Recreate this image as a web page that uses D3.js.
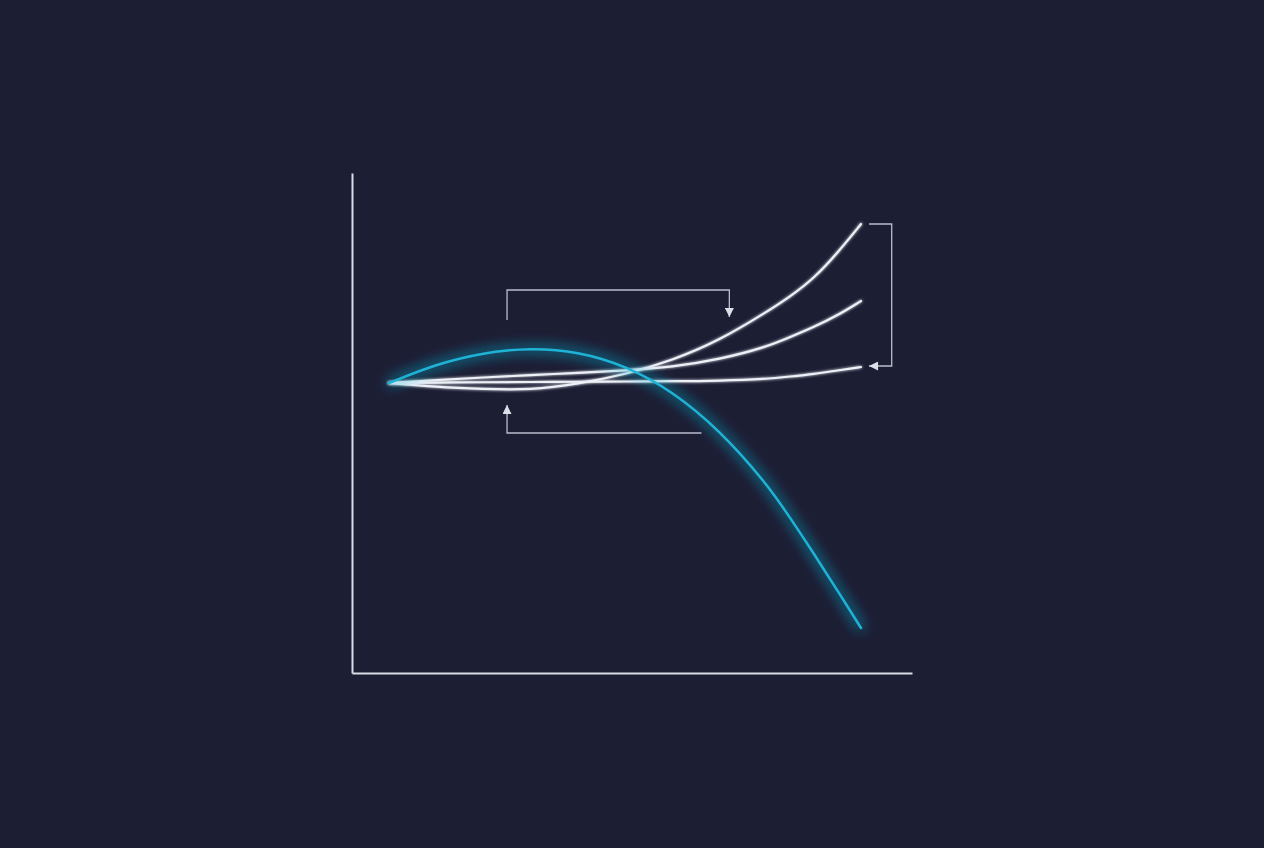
<!DOCTYPE html>
<html>
<head>
<meta charset="utf-8">
<script src="https://cdn.jsdelivr.net/npm/d3@7"></script>
<style>
  html, body { margin: 0; padding: 0; background: #1c1e34; }
  svg { display: block; }
</style>
</head>
<body>
<div id="chart"></div>
<script>
// x positions shared by every series (denser where the curves bend hardest)
const xs = [0, 1, 2, 3, 4, 5, 6, 7, 8, 8.5, 9, 9.5, 10];

// series values
const peakSeries = [0, 0.38, 0.61, 0.70, 0.63, 0.35, -0.16, -0.94, -2.01, -2.70, -3.41, -4.15, -4.9];
const highSeries = [0, -0.08, -0.12, -0.14, -0.02, 0.17, 0.45, 0.85, 1.42, 1.73, 2.09, 2.60, 3.18];
const midSeries  = [0, 0.06, 0.11, 0.16, 0.20, 0.25, 0.32, 0.47, 0.72, 0.92, 1.12, 1.35, 1.64];
const flatSeries = [0, 0.01, 0.015, 0.02, 0.025, 0.03, 0.035, 0.045, 0.08, 0.13, 0.18, 0.25, 0.32];

// annotation brackets in data units: [x, y] corner points, last point gets the arrow
const brackets = [
  [[2.5, 1.26], [2.5, 1.86], [7.21, 1.86], [7.21, 1.32]],
  [[6.62, -1.0], [2.5, -1.0], [2.5, -0.44]],
  [[10.17, 3.18], [10.65, 3.18], [10.65, 0.34], [10.17, 0.34]]
];

const width = 1264;
const height = 848;

const svg = d3.select('#chart')
  .append('svg')
  .attr('width', width)
  .attr('height', height);

svg.append('rect')
  .attr('width', width)
  .attr('height', height)
  .attr('fill', '#1c1e34');

const defs = svg.append('defs');

// soft glow for the highlighted curve
const glow = defs.append('filter')
  .attr('id', 'glow')
  .attr('x', '-20%').attr('y', '-20%')
  .attr('width', '140%').attr('height', '140%');
glow.append('feGaussianBlur')
  .attr('in', 'SourceGraphic')
  .attr('stdDeviation', 7)
  .attr('result', 'blur');
const merge = glow.append('feMerge');
merge.append('feMergeNode').attr('in', 'blur');
merge.append('feMergeNode').attr('in', 'blur');
merge.append('feMergeNode').attr('in', 'SourceGraphic');

const whiteGlow = defs.append('filter')
  .attr('id', 'whiteGlow')
  .attr('x', '-20%').attr('y', '-20%')
  .attr('width', '140%').attr('height', '140%');
whiteGlow.append('feGaussianBlur')
  .attr('in', 'SourceGraphic')
  .attr('stdDeviation', 1.5)
  .attr('result', 'blur');
const merge2 = whiteGlow.append('feMerge');
merge2.append('feMergeNode').attr('in', 'blur');
merge2.append('feMergeNode').attr('in', 'SourceGraphic');

defs.append('marker')
  .attr('id', 'arrow')
  .attr('viewBox', '0 0 10 10')
  .attr('refX', 10)
  .attr('refY', 5)
  .attr('markerWidth', 11)
  .attr('markerHeight', 9)
  .attr('markerUnits', 'userSpaceOnUse')
  .attr('orient', 'auto')
  .append('path')
  .attr('d', 'M0,0 L10,5 L0,10 Z')
  .attr('fill', '#dcdfe8');

// scales: the axis lines span the full domain, the curves run from 0 to 10
const scaleX = d3.scaleLinear().domain([-0.785, 11.08]).range([352, 912]);
const scaleY = d3.scaleLinear().domain([-5.8, 4.2]).range([673, 173]);

const axisX = d3.axisBottom(scaleX).tickValues([]).tickSizeOuter(0);
const axisY = d3.axisLeft(scaleY).tickValues([]).tickSizeOuter(0);

svg.append('g')
  .attr('transform', `translate(0, ${scaleY.range()[0]})`)
  .call(axisX)
  .call(g => g.select('.domain').attr('stroke', '#d9dbe6').attr('stroke-width', 2));

svg.append('g')
  .attr('transform', `translate(${scaleX.range()[0]}, 0)`)
  .call(axisY)
  .call(g => g.select('.domain').attr('stroke', '#d9dbe6').attr('stroke-width', 2));

// annotation brackets
const bracketLine = d3.line()
  .x(d => scaleX(d[0]))
  .y(d => scaleY(d[1]));

svg.selectAll('.bracket')
  .data(brackets)
  .join('path')
  .attr('class', 'bracket')
  .attr('d', d => bracketLine(d))
  .attr('fill', 'none')
  .attr('stroke', '#b9bdcc')
  .attr('stroke-width', 1.3)
  .attr('marker-end', 'url(#arrow)');

// curves
const line = d3.line()
  .x(d => scaleX(d.x))
  .y(d => scaleY(d.y))
  .curve(d3.curveBasis);

const toPoints = values => values.map((v, i) => ({ x: xs[i], y: v }));

const whiteSeries = [flatSeries, midSeries, highSeries];

svg.selectAll('.white-path')
  .data(whiteSeries)
  .join('path')
  .attr('class', 'white-path')
  .attr('d', d => line(toPoints(d)))
  .attr('fill', 'none')
  .attr('stroke', '#eef0f7')
  .attr('stroke-width', 2.2)
  .attr('stroke-linecap', 'round')
  .attr('filter', 'url(#whiteGlow)');

svg.append('path')
  .attr('class', 'peak-path')
  .attr('d', line(toPoints(peakSeries)))
  .attr('fill', 'none')
  .attr('stroke', '#1fb3d6')
  .attr('stroke-width', 2.5)
  .attr('stroke-linecap', 'round')
  .attr('filter', 'url(#glow)');
</script>
</body>
</html>
